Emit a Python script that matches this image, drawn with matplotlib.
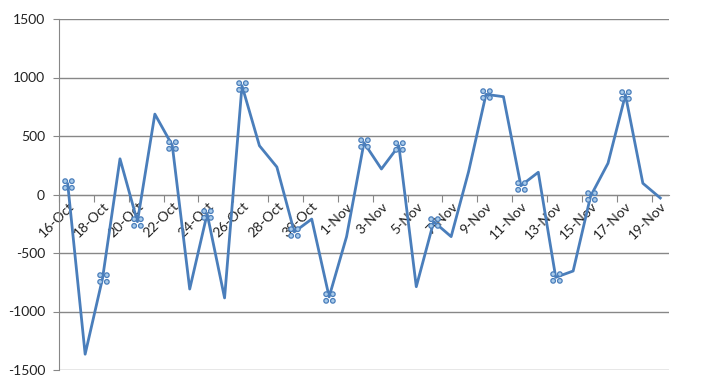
import matplotlib
matplotlib.use("Agg")
import matplotlib.pyplot as plt
import numpy as np
from matplotlib.path import Path

plt.rcParams['axes.unicode_minus'] = False
plt.rcParams['font.family'] = ['Lato', 'DejaVu Sans']

dates = ["16-Oct", "17-Oct", "18-Oct", "19-Oct", "20-Oct", "21-Oct", "22-Oct", "23-Oct",
         "24-Oct", "25-Oct", "26-Oct", "27-Oct", "28-Oct", "29-Oct", "30-Oct", "31-Oct",
         "1-Nov", "2-Nov", "3-Nov", "4-Nov", "5-Nov", "6-Nov", "7-Nov", "8-Nov",
         "9-Nov", "10-Nov", "11-Nov", "12-Nov", "13-Nov", "14-Nov", "15-Nov", "16-Nov",
         "17-Nov", "18-Nov", "19-Nov"]
values = [90, -1365, -715, 305, -232, 687, 420, -808,
          -165, -884, 930, 417, 235, -320, -210, -875,
          -360, 443, 218, 417, -788, -232, -360, 195,
          856, 836, 75, 190, -708, -654, -15, 267,
          852, 96, -30]
marked = [0, 2, 4, 6, 8, 10, 13, 15, 17, 19, 21, 24, 26, 28, 30, 32]
yticks = [-1500, -1000, -500, 0, 500, 1000, 1500]

fig = plt.figure(figsize=(7.01, 3.92), dpi=100)
ax = fig.add_axes([59/701, (392-370)/392, (669-59)/701, (370-19)/392])

x = np.arange(len(values))
ax.plot(x, values, color='#4A7EBB', lw=2, zorder=3)

# custom 4-circle marker
circ = [Path.circle((cx, cy), 0.38) for cx in (-0.55, 0.55) for cy in (-0.55, 0.55)]
mpath = Path.make_compound_path(*circ)
mx = [x[i] for i in marked]
my = [values[i] for i in marked]
ax.scatter(mx, my, marker=mpath, s=66, facecolor='#A9CBEA', edgecolor='#4A7EBB',
           linewidths=0.9, zorder=4)

ax.set_xlim(-0.5, len(values) - 0.5)
ax.set_ylim(-1500, 1500)
ax.set_yticks(yticks)
ax.set_yticklabels([str(v) for v in yticks], fontsize=10, color='#222222')
ax.yaxis.grid(True, color='#878787', lw=1)
ax.set_axisbelow(True)

for s in ['top', 'right']:
    ax.spines[s].set_visible(False)
ax.spines['left'].set_color('#878787')
ax.spines['bottom'].set_position(('data', 0))
ax.spines['bottom'].set_color('#878787')

ax.set_xticks(np.arange(-0.5, len(values), 2))
ax.set_xticklabels([])
ax.set_xticks(np.arange(0, len(values), 2), minor=True)
ax.set_xticklabels([dates[i] for i in range(0, len(values), 2)], minor=True,
                   rotation=45, ha='right', rotation_mode='anchor', fontsize=10,
                   color='#222222')
ax.tick_params(axis='x', which='major', length=5, color='#878787', direction='out')
ax.tick_params(axis='x', which='minor', length=0, pad=4)
ax.tick_params(axis='y', length=4, color='#878787', pad=6)

fig.savefig('out.png', dpi=100)
